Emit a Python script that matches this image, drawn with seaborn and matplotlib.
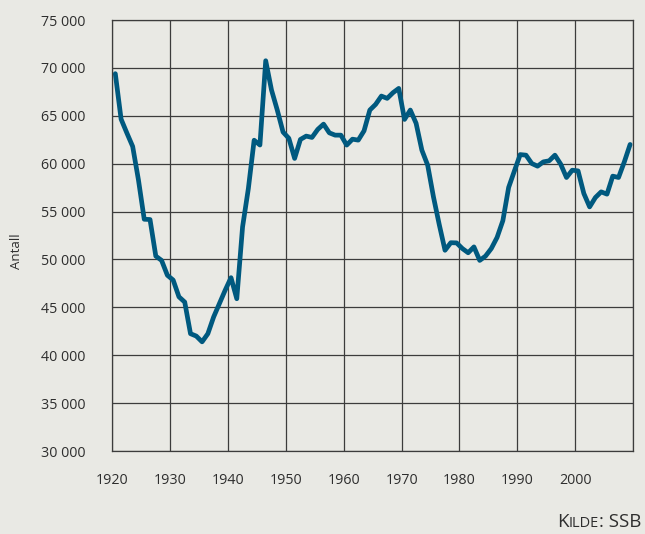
import pandas as pd
import matplotlib.pyplot as plt
import seaborn as sns
from matplotlib.ticker import FuncFormatter

# Levendefødte per år
years = list(range(1920, 2010))
births = [
    69400, 64650, 63200, 61800, 58300, 54200, 54170, 50350, 49900, 48350,  # 1920-1929
    47850, 46100, 45550, 42250, 42000, 41400, 42250, 44000, 45400, 46800,  # 1930-1939
    48100, 45900, 53400, 57400, 62450, 61950, 70750, 67700, 65600, 63300,  # 1940-1949
    62650, 60550, 62530, 62880, 62740, 63580, 64130, 63220, 62980, 62980,  # 1950-1959
    61940, 62560, 62460, 63430, 65600, 66190, 67060, 66820, 67410, 67860,  # 1960-1969
    64620, 65600, 64220, 61410, 59850, 56540, 53650, 50960, 51750, 51730,  # 1970-1979
    51140, 50700, 51310, 49900, 50350, 51140, 52300, 54050, 57520, 59250,  # 1980-1989
    60950, 60890, 60020, 59740, 60190, 60300, 60890, 59950, 58560, 59320,  # 1990-1999
    59250, 56890, 55490, 56470, 57060, 56820, 58700, 58560, 60190, 62010,  # 2000-2009
]
x_ticks = [1920, 1930, 1940, 1950, 1960, 1970, 1980, 1990, 2000, 2010]
x_labels = ['1920', '1930', '1940', '1950', '1960', '1970', '1980', '1990', '2000', '']
y_ticks = list(range(30000, 75001, 5000))

df = pd.DataFrame({'year': years, 'births': births})
df['pos'] = df['year'] + 0.5  # midt i året

bg = '#e9e9e4'
grid_col = '#3c3c3c'
text_col = '#2e2e2e'

sns.set_style('white')
plt.rcParams['font.family'] = ['Open Sans', 'DejaVu Sans']

fig = plt.figure(figsize=(6.45, 5.34), dpi=100, facecolor=bg)
ax = fig.add_axes([0.1743, 0.1554, 0.8071, 0.8071])
ax.set_facecolor(bg)

sns.lineplot(data=df, x='pos', y='births', ax=ax, color='#00597f', linewidth=3.4,
             solid_joinstyle='round', solid_capstyle='round')

ax.set_xlim(1920, 2010)
ax.set_ylim(30000, 75000)
ax.set_xticks(x_ticks)
ax.set_xticklabels(x_labels)
ax.set_yticks(y_ticks)
ax.yaxis.set_major_formatter(FuncFormatter(lambda v, p: f'{int(v):,}'.replace(',', ' ')))

ax.grid(True, color=grid_col, linewidth=0.9)
for s in ax.spines.values():
    s.set_visible(True)
    s.set_color(grid_col)
    s.set_linewidth(0.9)
ax.tick_params(axis='both', which='both', length=5, width=0.9, color=grid_col,
               labelcolor=text_col, labelsize=10.3)
ax.tick_params(axis='y', pad=14.5)
ax.tick_params(axis='x', pad=11)
ax.set_xlabel('')
ax.set_ylabel('')

fig.text(16 / 645, 1 - 251 / 534, 'Antall', rotation=90, ha='center', va='center',
         fontsize=9.5, color=text_col)

# "Kilde: SSB" med kapitéler
fig.canvas.draw()
r = fig.canvas.get_renderer()
xr = 641 / 645
yb = 1 - 527 / 534
parts = [(': SSB', 13.5), ('ILDE', 10.5), ('K', 13.5)]
for txt, fs in parts:
    t = fig.text(xr, yb, txt, ha='right', va='baseline', fontsize=fs, color=text_col)
    bb = t.get_window_extent(renderer=r)
    xr = bb.x0 / fig.bbox.width

fig.savefig('out.png', dpi=100, facecolor=bg)
